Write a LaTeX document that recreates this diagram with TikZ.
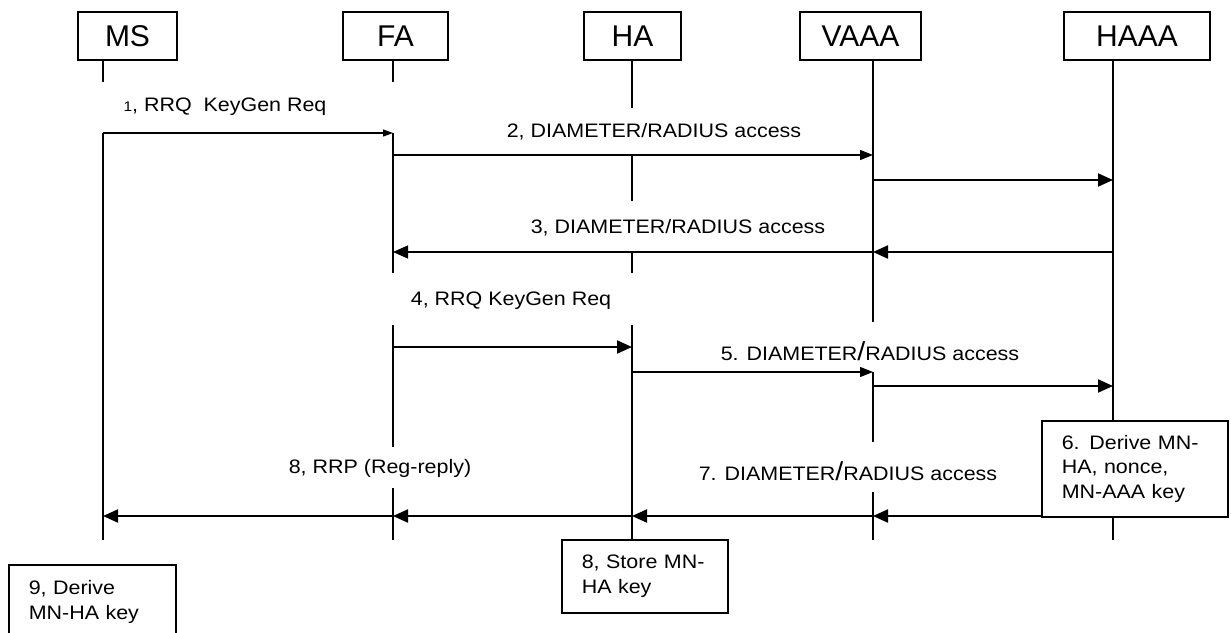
\documentclass[tikz,border=0pt]{standalone}
\usepackage{fontspec}
\setmainfont{Liberation Sans}
\newfontfamily\widefam[FakeStretch=1.1]{Liberation Sans}
\usetikzlibrary{arrows.meta}
\newcommand{\lblfont}{\widefam\fontsize{19.5}{24.5}\selectfont}
\newcommand{\hdfont}{\fontsize{30}{34}\selectfont}
\newcommand{\bigslash}{{\fontsize{26}{26}\selectfont/}}
\tikzset{
  entity/.style={draw, line width=1.6pt, minimum height=48pt, inner sep=0pt, font=\hdfont},
  life/.style={line width=1.3pt},
  thinmsg/.style={line width=1.2pt, -{Triangle[length=13pt,width=10pt]}},
  thickmsg/.style={line width=2pt, -{Triangle[length=15pt,width=13pt]}},
  lbl/.style={font=\lblfont, inner sep=0pt, anchor=base},
  note/.style={draw, fill=white, line width=1.6pt, font=\lblfont, align=left,
    inner xsep=20pt, inner ysep=0pt, anchor=north west},
}
\begin{document}
\begin{tikzpicture}[x=1pt,y=-1pt]
\useasboundingbox (0,0) rectangle (1231,632);
% entities
\node[entity, minimum width=99pt] (msbox) at (127.5,36) {MS};
\node[entity, minimum width=105pt] (fabox) at (395.5,36) {FA};
\node[entity, minimum width=97pt] (habox) at (632.5,36) {HA};
\node[entity, minimum width=121pt] (vaaabox) at (860.5,36) {VAAA};
\node[entity, minimum width=146pt] (haaabox) at (1137,36) {HAAA};
% lifelines
\coordinate (ms) at (103,0);
\coordinate (fa) at (393,0);
\coordinate (ha) at (632,0);
\coordinate (vaaa) at (873,0);
\coordinate (haaa) at (1113,0);
\foreach \n/\a/\b in {ms/60/82, ms/133/540, fa/60/82, fa/133/273, fa/325/447, fa/488/540,
    ha/60/108, ha/155/201, ha/252/273, ha/325/539,
    vaaa/60/322, vaaa/372/442, vaaa/492/540, haaa/60/420, haaa/516/540}
  \draw[life] (\n |- 0,\a) -- (\n |- 0,\b);

% messages
\draw[thinmsg, -{Triangle[length=10pt,width=7pt]}] (ms |- 0,133) -- (fa |- 0,133);
\node[lbl] (l1) at (225,111) {{\fontsize{14}{14}\selectfont 1}, RRQ\ \ KeyGen Req};

\draw[thinmsg] (fa |- 0,155) -- (vaaa |- 0,155);
\draw[line width=2pt] (fa |- 0,155) -- (487,155);
\node[lbl] (l2) at (654,137) {2, DIAMETER/RADIUS access};
\draw[thickmsg] (vaaa |- 0,180) -- (haaa |- 0,180);

\draw[thickmsg] (haaa |- 0,252) -- (vaaa |- 0,252);
\draw[thinmsg, -{Triangle[length=15pt,width=13pt]}] (vaaa |- 0,252) -- (fa |- 0,252);
\draw[line width=2pt] (405,252) -- (510,252) (850,252) -- (vaaa |- 0,252);
\node[lbl] (l3) at (678,233) {3, DIAMETER/RADIUS access};

\draw[thickmsg] (fa |- 0,347) -- (ha |- 0,347);
\node[lbl] (l4) at (511,305) {4, RRQ KeyGen Req};

\draw[thinmsg] (ha |- 0,372) -- (vaaa |- 0,372);
\draw[line width=2pt] (ha |- 0,372) -- (702,372);
\node[lbl] (l5) at (870,360) {5. DIAMETER\bigslash RADIUS access};
\draw[thickmsg] (vaaa |- 0,386) -- (haaa |- 0,386);

\draw[thickmsg] (haaa |- 0,516) -- (vaaa |- 0,516);
\draw[thickmsg] (vaaa |- 0,516) -- (ha |- 0,516);
\node[lbl] (l7) at (848,480) {7. DIAMETER\bigslash RADIUS access};
\draw[thickmsg] (ha |- 0,516) -- (fa |- 0,516);
\draw[thickmsg] (fa |- 0,516) -- (ms |- 0,516);
\node[lbl] (l8) at (380,473) {8, RRP (Reg-reply)};

% notes
\node[note, text width=146pt, minimum height=96pt] (derive6) at (1041,420)
  {6. Derive MN-\\HA, nonce,\\MN-AAA key};
\node[note, text width=126pt, minimum height=73pt] (store8) at (561,539)
  {8, Store MN-\\HA key};
\node[note, text width=127pt, minimum height=74pt] (derive9) at (8,564)
  {9, Derive\\MN-HA\,\,key};
\end{tikzpicture}
\end{document}
